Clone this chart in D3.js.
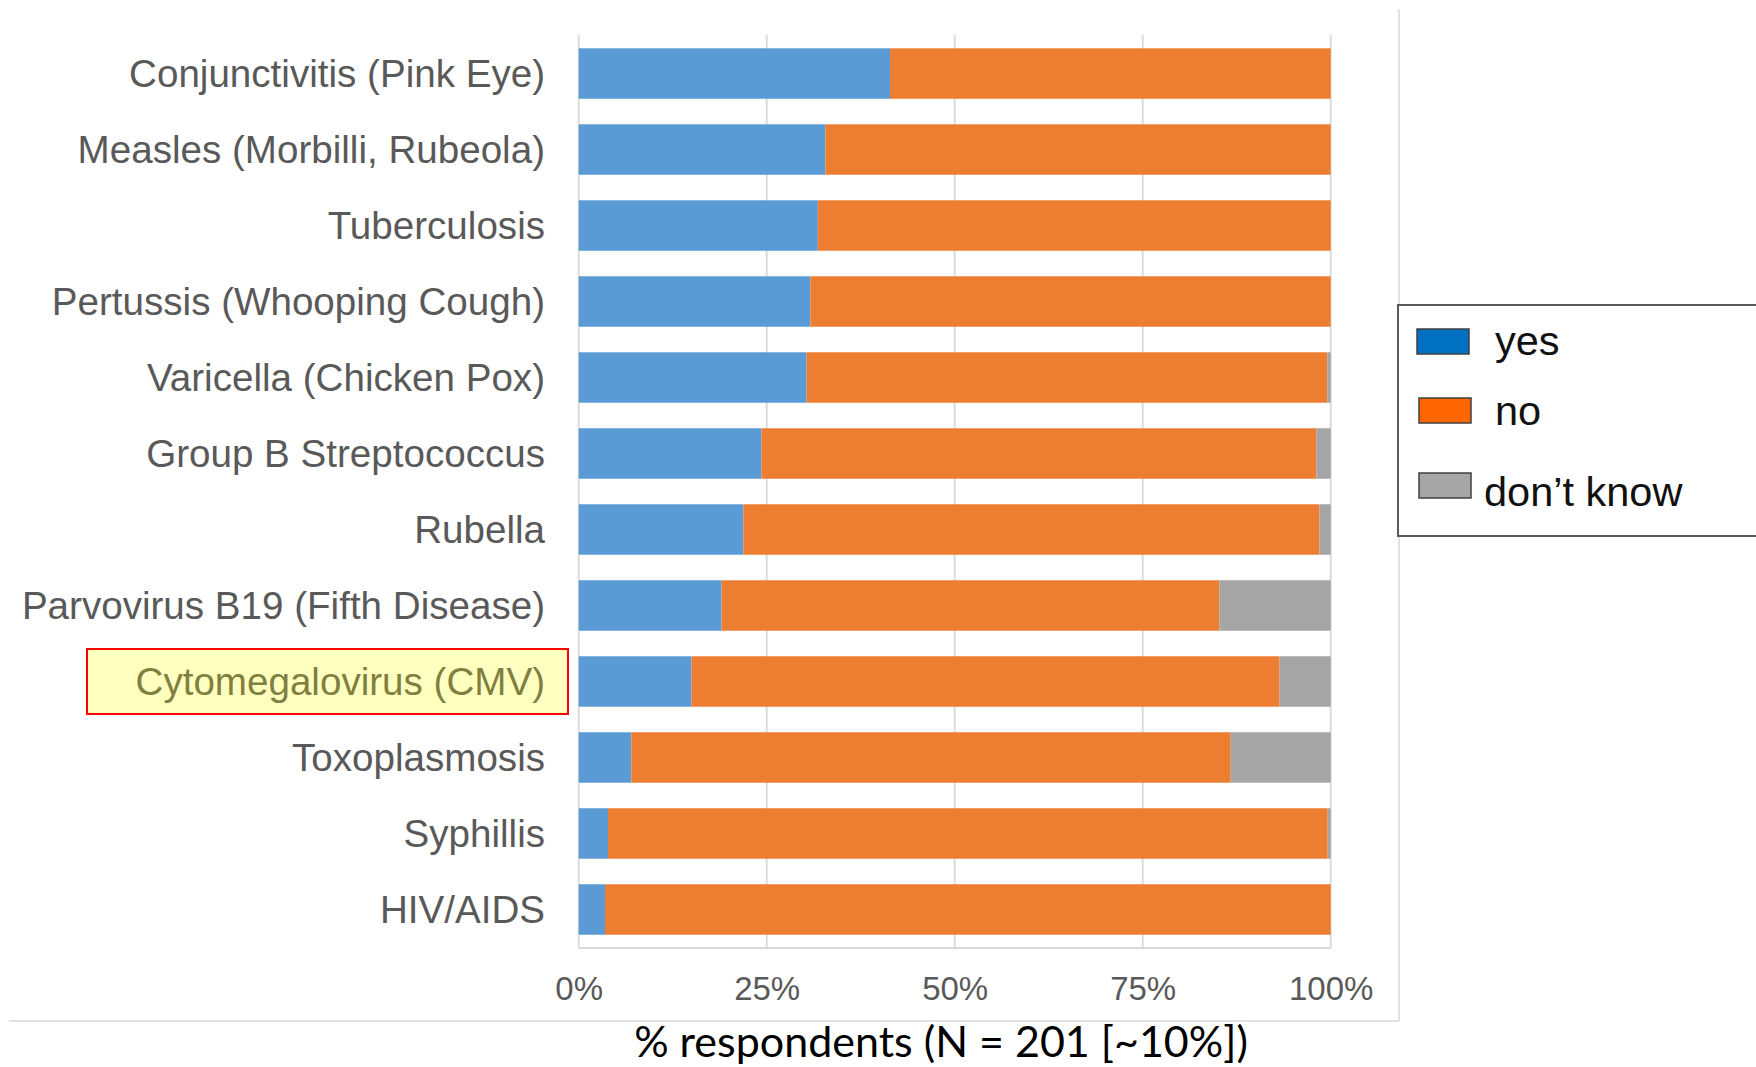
<!DOCTYPE html>
<html>
<head>
<meta charset="utf-8">
<script src="https://cdn.jsdelivr.net/npm/d3@7/dist/d3.min.js"></script>
<style>
  html, body { margin: 0; padding: 0; background: #fff; }
  svg { display: block; }
</style>
</head>
<body>
<svg id="chart" width="1756" height="1067"></svg>
<script>
// ---- data ----
const categories = [
  "Conjunctivitis (Pink Eye)",
  "Measles (Morbilli, Rubeola)",
  "Tuberculosis",
  "Pertussis (Whooping Cough)",
  "Varicella (Chicken Pox)",
  "Group B Streptococcus",
  "Rubella",
  "Parvovirus B19 (Fifth Disease)",
  "Cytomegalovirus (CMV)",
  "Toxoplasmosis",
  "Syphillis",
  "HIV/AIDS"
];
const yesValues      = [41.4, 32.8, 31.8, 30.8, 30.3, 24.3, 21.9, 19.0, 15.0, 7.0, 3.9, 3.5];
const noValues       = [58.6, 67.2, 68.2, 69.2, 69.25, 73.8, 76.6, 66.2, 78.2, 79.7, 95.7, 96.5];
const dontKnowValues = [0, 0, 0, 0, 0.45, 1.9, 1.5, 14.8, 6.8, 13.3, 0.4, 0];
const seriesNames = ["yes", "no", "don\u2019t know"];
const tickValues = [0, 25, 50, 75, 100];
const tickLabels = ["0%", "25%", "50%", "75%", "100%"];
const highlighted = "Cytomegalovirus (CMV)";
const axisTitle = "% respondents (N = 201 [~10%])";

// ---- styles ----
const barColors = ["#5B9BD5", "#ED7D31", "#A5A5A5"];
const legendColors = ["#0070C0", "#FF6600", "#A6A6A6"];

const svg = d3.select("#chart");

const x = d3.scaleLinear().domain([0, 100]).range([578.7, 1330.7]);
const y = d3.scaleBand().domain(categories).range([35, 948])
  .paddingInner(0.336).paddingOuter(0.175);

// outer frame lines (chart area border pieces)
svg.append("line").attr("x1", 9).attr("x2", 1399).attr("y1", 1021).attr("y2", 1021)
  .attr("stroke", "#d9d9d9").attr("stroke-width", 1.5);
svg.append("line").attr("x1", 1399).attr("x2", 1399).attr("y1", 9).attr("y2", 1021)
  .attr("stroke", "#d9d9d9").attr("stroke-width", 1.5);

// gridlines
svg.append("g").selectAll("line").data(tickValues).join("line")
  .attr("x1", d => x(d)).attr("x2", d => x(d))
  .attr("y1", y.range()[0]).attr("y2", y.range()[1])
  .attr("stroke", "#d9d9d9").attr("stroke-width", 1.8);
svg.append("line").attr("x1", x(0)).attr("x2", x(100))
  .attr("y1", y.range()[1]).attr("y2", y.range()[1])
  .attr("stroke", "#d9d9d9").attr("stroke-width", 1.8);

// stacked data
const rows = categories.map((c, i) => ({ cat: c, yes: yesValues[i], no: noValues[i], dk: dontKnowValues[i] }));
const stack = d3.stack().keys(["yes", "no", "dk"]);
const stacked = stack(rows);

svg.append("g").selectAll("g").data(stacked).join("g")
  .attr("fill", (d, i) => barColors[i])
  .selectAll("rect").data(d => d).join("rect")
  .attr("x", d => x(d[0]))
  .attr("width", d => Math.max(0, x(d[1]) - x(d[0])))
  .attr("y", d => y(d.data.cat))
  .attr("height", y.bandwidth());

// highlight box for CMV
svg.append("rect")
  .attr("x", 87).attr("y", y(highlighted) + y.bandwidth() / 2 - 32.5)
  .attr("width", 481).attr("height", 65)
  .attr("fill", "#FFFFC0").attr("stroke", "#FF0000").attr("stroke-width", 2);

// category labels
svg.append("g").selectAll("text").data(categories).join("text")
  .attr("x", 545)
  .attr("y", d => y(d) + y.bandwidth() / 2)
  .attr("dy", "0.35em")
  .attr("text-anchor", "end")
  .attr("font-family", "'Liberation Sans', Arial, sans-serif")
  .attr("font-size", 38.6)
  .attr("fill", d => d === highlighted ? "#7F7F3F" : "#595959")
  .text(d => d);

// x axis tick labels
const xAxis = d3.axisBottom(x).tickValues(tickValues)
  .tickFormat((d, i) => tickLabels[i]).tickSize(0).tickPadding(0);
const gx = svg.append("g").attr("transform", `translate(0, 1000)`).call(xAxis);
gx.select(".domain").remove();
gx.selectAll("text")
  .attr("dy", 0).attr("y", 0)
  .attr("font-family", "'Liberation Sans', Arial, sans-serif")
  .attr("font-size", 33)
  .attr("fill", "#595959");

// axis title
const t = svg.append("text")
  .attr("x", 941).attr("y", 1057)
  .attr("text-anchor", "middle")
  .attr("font-family", "Lato, 'Open Sans', sans-serif")
  .attr("font-size", 44)
  .attr("fill", "#000")
  .text(axisTitle);
const tw = t.node().getComputedTextLength();
t.attr("font-size", 44 * 614 / tw);

// legend
const lg = svg.append("g");
lg.append("rect").attr("x", 1398).attr("y", 305).attr("width", 420).attr("height", 231)
  .attr("fill", "#fff").attr("stroke", "#595959").attr("stroke-width", 2);
const legendItems = [
  { sx: 1417, sy: 329, tx: 1495, ty: 355 },
  { sx: 1419, sy: 398, tx: 1495, ty: 425 },
  { sx: 1419, sy: 473, tx: 1484, ty: 506 }
];
legendItems.forEach((it, i) => {
  lg.append("rect").attr("x", it.sx).attr("y", it.sy).attr("width", 52).attr("height", 25)
    .attr("fill", legendColors[i]).attr("stroke", "#404040").attr("stroke-width", 1.5);
  lg.append("text").attr("x", it.tx).attr("y", it.ty)
    .attr("font-family", "'Liberation Sans', Arial, sans-serif")
    .attr("font-size", 41.5)
    .attr("fill", "#111")
    .text(seriesNames[i]);
});
</script>
</body>
</html>
